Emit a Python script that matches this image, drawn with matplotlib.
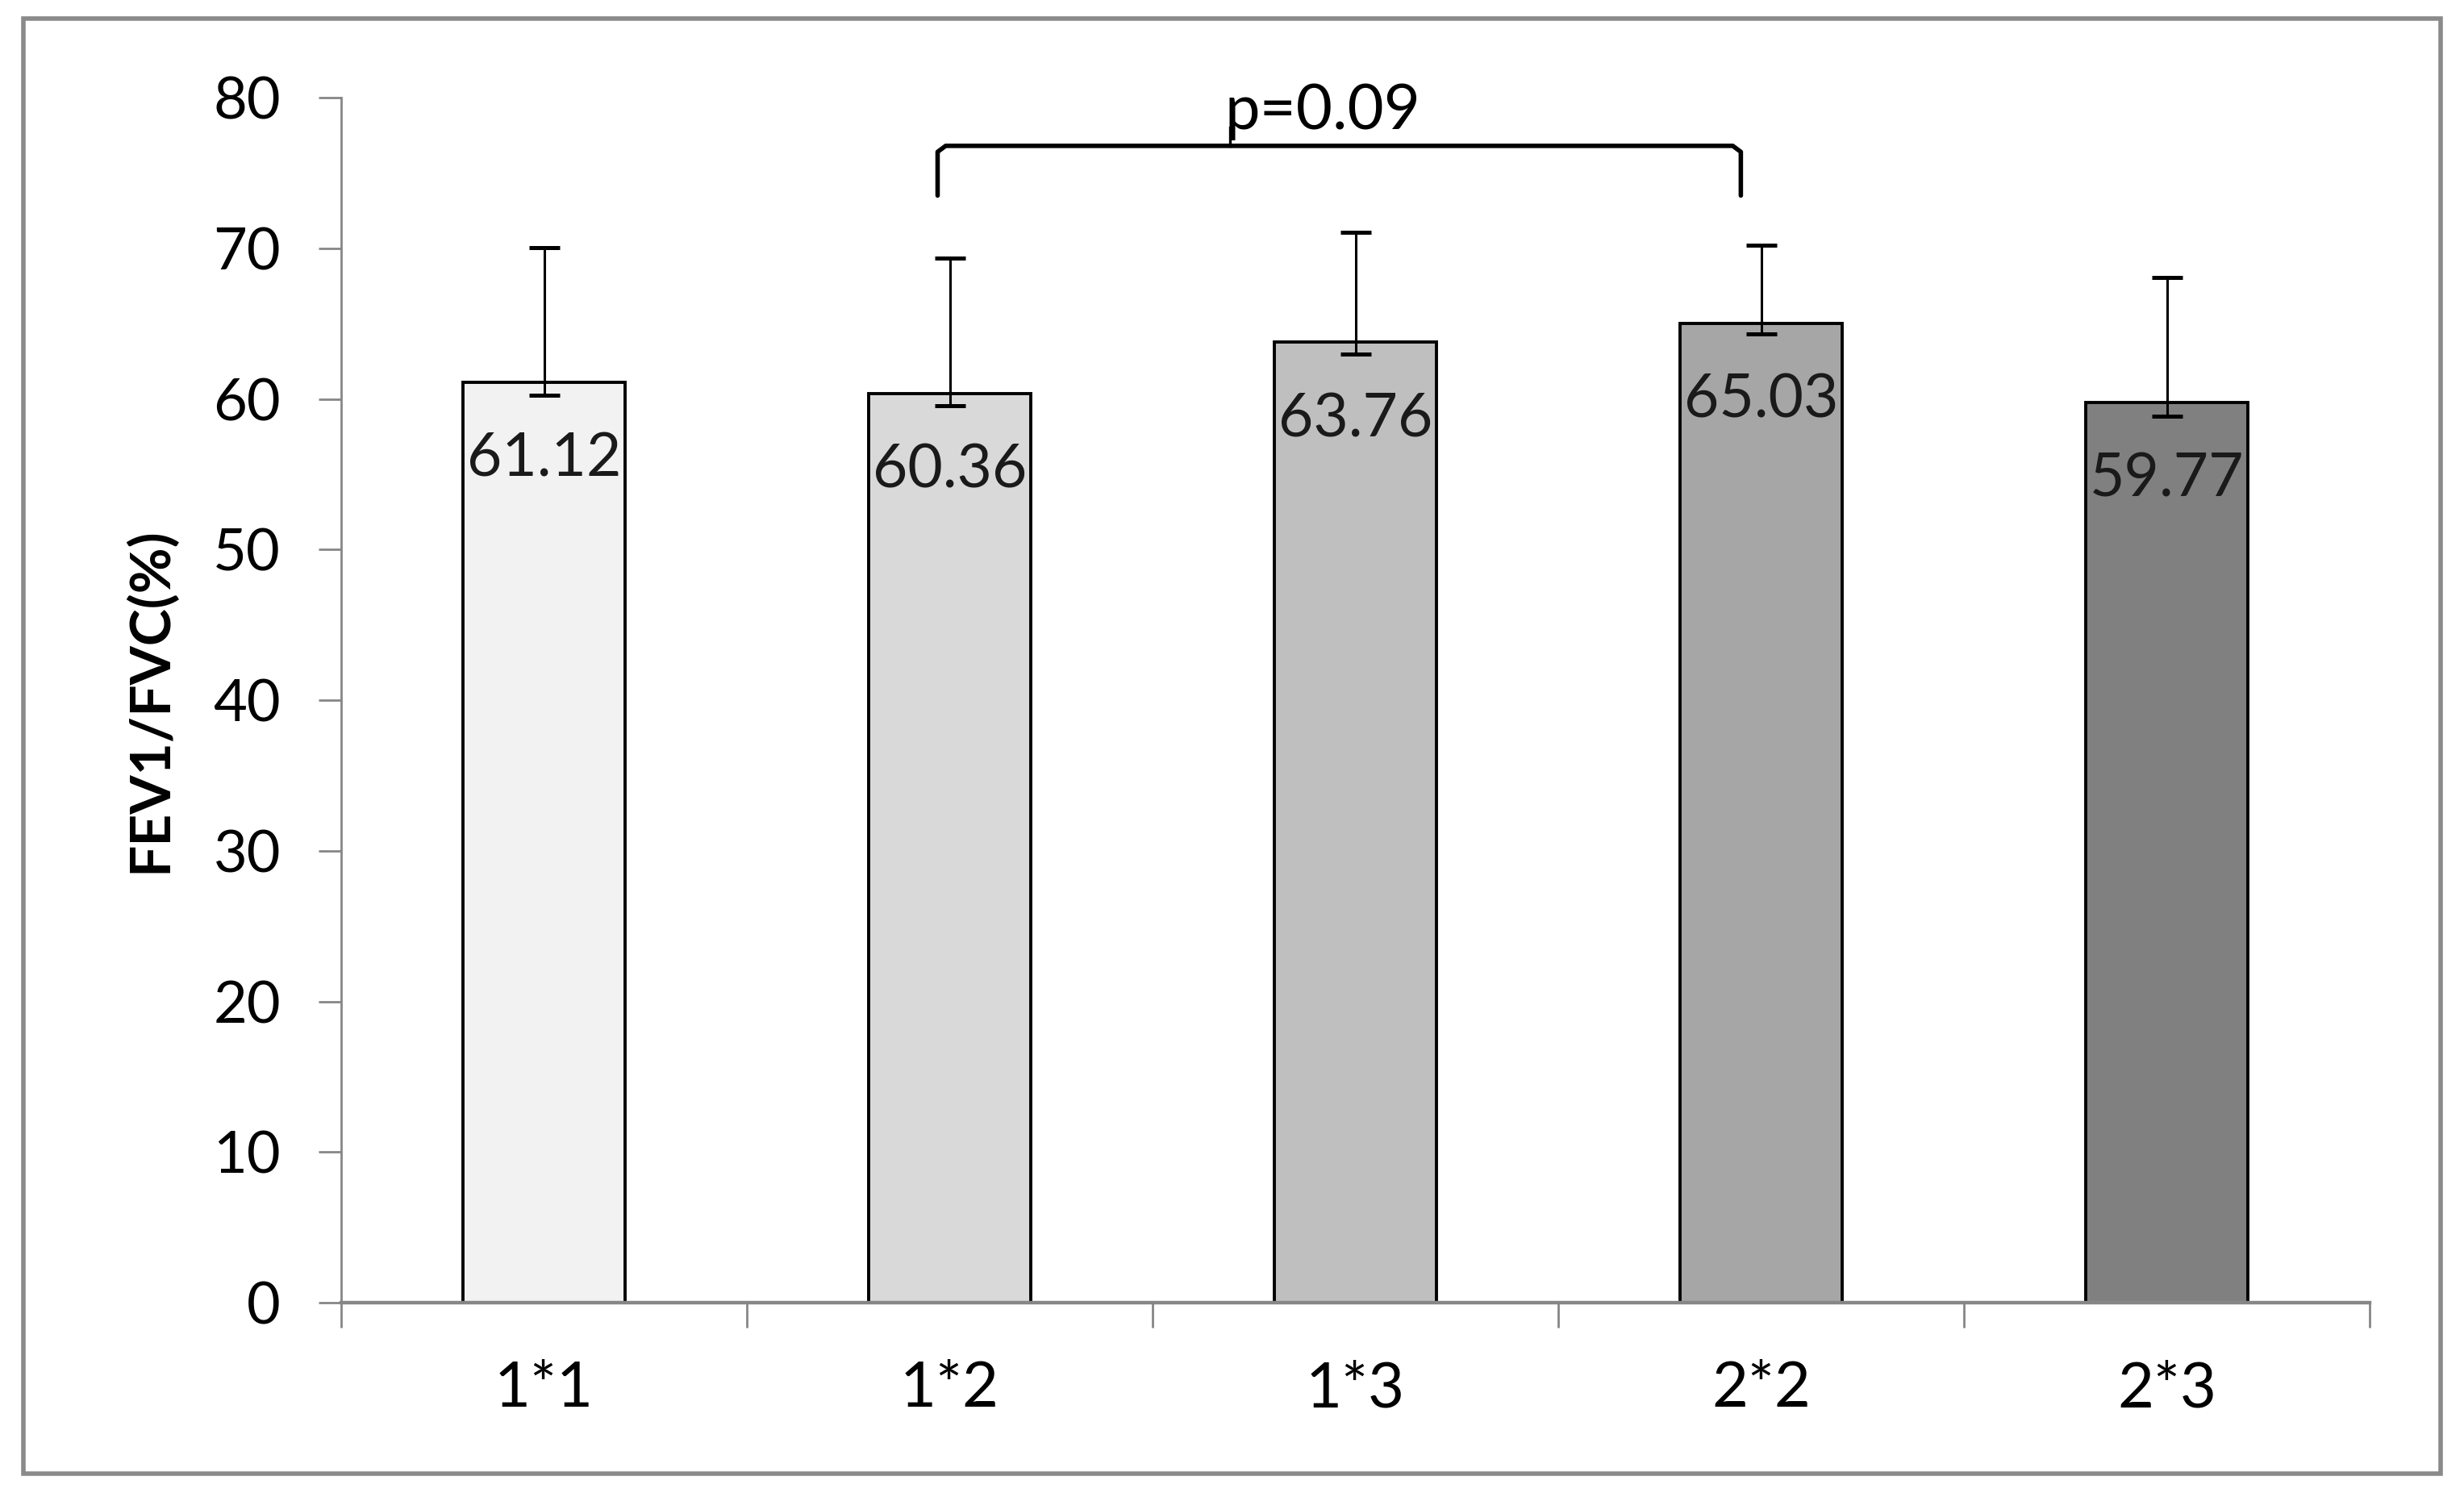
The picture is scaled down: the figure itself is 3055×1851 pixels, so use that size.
import numpy as np
import matplotlib
matplotlib.use('Agg')
from matplotlib import pyplot as plt
from matplotlib.patches import Rectangle

plt.rcParams['font.family'] = ['Lato', 'DejaVu Sans']

# data
groups = ['1*1', '1*2', '1*3', '2*2', '2*3']
means = [61.12, 60.36, 63.76, 65.03, 59.77]
err_up = [8.9, 9.0, 7.3, 5.2, 8.3]
err_low = [0.9, 0.8, 0.8, 0.7, 0.9]
bar_colors = ['#F2F2F2', '#D9D9D9', '#BFBFBF', '#A6A6A6', '#808080']
y_ticks = [0, 10, 20, 30, 40, 50, 60, 70, 80]
p_text = 'p=0.09'

fig = plt.figure(figsize=(15.275, 9.255), dpi=200)
ax = fig.add_axes([0.1385, 0.1275, 0.8232, 0.8071])

x = np.arange(len(groups))
ax.bar(x, means, width=0.4, color=bar_colors, edgecolor='black', linewidth=1.4, zorder=2)
ax.errorbar(x, means, yerr=[err_low, err_up], fmt='none', ecolor='black',
            elinewidth=1.1, capsize=7, capthick=1.8, zorder=3)

# value labels just under the top of each bar
for xi, m in zip(x, means):
    ax.annotate(f'{m:.2f}', (xi, m), xytext=(0, -22), textcoords='offset points',
                ha='center', va='top', fontsize=27, color='#1a1a1a', zorder=4)

# significance bracket between 1*2 and 2*2
xl, xr = 0.97, 2.95
yb, yt = 73.5, 76.8
ax.plot([xl, xl, xl + 0.02, xr - 0.02, xr, xr], [yb, yt - 0.4, yt, yt, yt - 0.4, yb],
        color='black', lw=2.0, clip_on=False, zorder=3, solid_capstyle='round')
ax.plot([1.69, 1.69], [yt, yt + 1.2], color='black', lw=1.2, clip_on=False)
ax.text(1.92, 77.9, p_text, ha='center', va='baseline', fontsize=28, color='black')

ax.set_xlim(-0.5, 4.5)
ax.set_ylim(0, 80)
ax.set_yticks(y_ticks)
ax.set_xticks(x)
ax.set_xticklabels(groups)
ax.set_xticks(np.arange(-0.5, 5, 1), minor=True)
ax.tick_params(axis='x', which='major', length=0, pad=26, labelsize=28)
ax.tick_params(axis='x', which='minor', length=11, width=1.0, color='#868686', direction='out')
ax.tick_params(axis='y', length=10, width=1.0, color='#868686', pad=17, labelsize=26)

for s in ['top', 'right']:
    ax.spines[s].set_visible(False)
ax.spines['left'].set_color('#868686')
ax.spines['left'].set_linewidth(1.0)
ax.spines['bottom'].set_color('#868686')
ax.spines['bottom'].set_linewidth(1.6)

ax.set_ylabel('FEV1/FVC(%)', fontsize=25, fontweight='bold')
ax.yaxis.set_label_coords(-0.0815, 0.5)

# outer frame around the chart
fig.patches.append(Rectangle((29 / 3055, 1 - 1827 / 1851), (3026 - 29) / 3055, (1827 - 23) / 1851,
                             transform=fig.transFigure, fill=False, edgecolor='#8a8a8a', linewidth=2.0))

fig.savefig('out.png', dpi=200, facecolor='white')
